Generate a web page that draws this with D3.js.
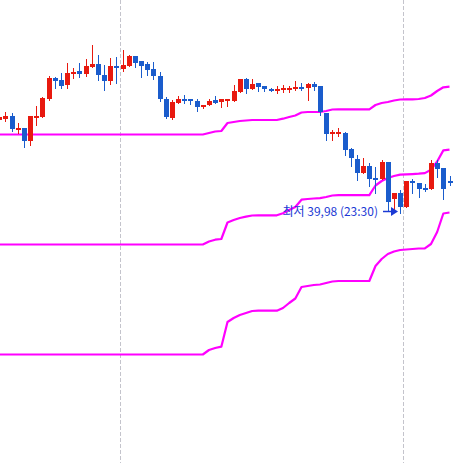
<!DOCTYPE html>
<html><head><meta charset="utf-8">
<script src="https://cdn.jsdelivr.net/npm/d3@7"></script>
<style>html,body{margin:0;padding:0;background:#fff;overflow:hidden}</style>
</head><body><svg id="c" width="454" height="463"></svg>
<script>
const opens = [40.91,40.92,40.95,40.81,40.83,40.70,40.94,40.94,41.12,41.33,
41.31,41.26,41.37,41.40,41.37,41.44,41.47,41.36,41.30,41.45,
41.42,41.45,41.55,41.50,41.47,41.42,41.35,41.12,40.93,41.08,
41.12,41.12,41.10,41.04,41.06,41.11,41.09,41.10,41.10,41.19,
41.32,41.22,41.28,41.25,41.22,41.20,41.21,41.21,41.22,41.24,
41.23,41.27,41.25,40.98,40.77,40.78,40.78,40.62,40.52,40.38,
40.45,40.33,40.32,40.49,40.12,40.18,40.04,40.30,40.28,40.23,
40.22,40.48,40.43,40.30];
const highs = [40.95,40.99,40.98,40.88,40.83,40.95,41.05,41.14,41.35,41.34,
41.38,41.48,41.43,41.48,41.52,41.66,41.56,41.46,41.53,41.54,
41.61,41.56,41.55,41.50,41.49,41.49,41.39,41.14,41.11,41.15,
41.16,41.12,41.12,41.06,41.12,41.15,41.12,41.12,41.26,41.32,
41.33,41.32,41.28,41.25,41.23,41.25,41.26,41.25,41.30,41.28,
41.28,41.29,41.25,40.98,40.81,40.83,40.79,40.63,40.56,40.53,
40.48,40.44,40.51,40.49,40.18,40.21,40.30,40.32,40.28,40.27,
40.51,40.51,40.43,40.35];
const lows = [40.90,40.90,40.80,40.78,40.64,40.66,40.86,40.94,41.11,41.23,
41.23,41.23,41.33,41.34,41.35,41.44,41.31,41.21,41.27,41.28,
41.40,41.45,41.44,41.34,41.36,41.32,41.10,40.93,40.92,41.08,
41.08,41.07,41.00,41.03,41.06,41.08,41.04,41.05,41.10,41.19,
41.18,41.22,41.20,41.20,41.20,41.18,41.19,41.19,41.21,41.21,
41.11,41.21,40.96,40.71,40.71,40.75,40.56,40.45,40.31,40.38,
40.25,40.18,40.32,40.01,40.00,39.98,40.04,40.18,40.14,40.20,
40.22,40.34,40.12,40.26];
const closes = [40.94,40.95,40.82,40.83,40.70,40.95,40.95,41.13,41.33,41.30,
41.25,41.38,41.39,41.37,41.45,41.47,41.36,41.30,41.45,41.43,
41.46,41.55,41.48,41.45,41.41,41.35,41.12,40.94,41.09,41.12,
41.11,41.11,41.04,41.06,41.10,41.08,41.12,41.12,41.20,41.32,
41.22,41.27,41.24,41.22,41.21,41.22,41.23,41.23,41.24,41.22,
41.27,41.24,40.99,40.77,40.79,40.79,40.61,40.53,40.38,40.45,
40.32,40.31,40.49,40.09,40.18,40.04,40.30,40.28,40.22,40.22,
40.48,40.42,40.22,40.29];

const upperBand = [
40.765,40.765,40.765,40.765,40.765,40.765,40.765,40.765,40.765,40.765,
40.765,40.765,40.765,40.765,40.765,40.765,40.765,40.765,40.765,40.765,
40.765,40.765,40.765,40.765,40.765,40.765,40.765,40.765,40.765,40.765,
40.765,40.765,40.765,40.765,40.78,40.795,40.80,40.88,40.89,40.90,
40.905,40.91,40.91,40.91,40.91,40.91,40.923,40.94,40.955,40.985,
40.99,40.99,40.99,41.00,41.015,41.017,41.017,41.017,41.017,41.017,
41.017,41.06,41.08,41.09,41.105,41.115,41.117,41.117,41.12,41.13,
41.155,41.20,41.237,41.243];
const middleBand = [
39.665,39.665,39.665,39.665,39.665,39.665,39.665,39.665,39.665,39.665,
39.665,39.665,39.665,39.665,39.665,39.665,39.665,39.665,39.665,39.665,
39.665,39.665,39.665,39.665,39.665,39.665,39.665,39.665,39.665,39.665,
39.665,39.665,39.665,39.665,39.695,39.713,39.72,39.885,39.91,39.93,
39.943,39.955,39.957,39.957,39.957,39.957,39.977,40.01,40.04,40.113,
40.12,40.125,40.128,40.14,40.155,40.159,40.159,40.159,40.159,40.159,
40.159,40.255,40.30,40.33,40.35,40.363,40.366,40.369,40.373,40.379,
40.413,40.495,40.606,40.614];
const lowerBand = [
38.565,38.565,38.565,38.565,38.565,38.565,38.565,38.565,38.565,38.565,
38.565,38.565,38.565,38.565,38.565,38.565,38.565,38.565,38.565,38.565,
38.565,38.565,38.565,38.565,38.565,38.565,38.565,38.565,38.565,38.565,
38.565,38.565,38.565,38.565,38.61,38.63,38.643,38.89,38.93,38.96,
38.98,39.00,39.003,39.003,39.003,39.003,39.03,39.08,39.125,39.24,
39.25,39.26,39.265,39.28,39.295,39.30,39.30,39.30,39.30,39.30,
39.30,39.45,39.52,39.57,39.595,39.61,39.615,39.62,39.625,39.627,
39.67,39.79,39.975,39.985];

const dayBreaks = [19.5, 65.5];
const lowLabelPrefix = "최저";
const lowLabelTime = "23:30";

const W = 454, H = 463;
const svg = d3.select("#c");
const x = d3.scaleLinear().domain([0, 73]).range([-0.67, 449.5]);
const y = d3.scaleLinear().domain([37.48, 42.11]).range([H, 0]);

const UP = "#e8190f", DOWN = "#1a5ccc";

// day separators
svg.selectAll("line.grid").data(dayBreaks).join("line")
  .attr("x1", d => Math.round(x(d)) + 0.5).attr("x2", d => Math.round(x(d)) + 0.5)
  .attr("y1", 0).attr("y2", H)
  .attr("stroke", "#c4c4cc").attr("stroke-width", 1)
  .attr("stroke-dasharray", "4,2");

// bands
const idx = d3.range(opens.length);
const lineGen = arr => d3.line().x(i => x(i)).y(i => y(arr[i]))(idx);
[upperBand, middleBand, lowerBand].forEach(b => {
  svg.append("path").attr("d", lineGen(b))
    .attr("fill", "none").attr("stroke", "#ff00ff").attr("stroke-width", 2.2)
    .attr("stroke-linejoin", "round");
});

// candles
const g = svg.append("g").attr("shape-rendering", "crispEdges");
idx.forEach(i => {
  const cx = Math.round(x(i));
  const up = closes[i] >= opens[i];
  const col = up ? UP : DOWN;
  g.append("line")
    .attr("x1", cx + 0.5).attr("x2", cx + 0.5)
    .attr("y1", Math.round(y(highs[i]))).attr("y2", Math.round(y(lows[i])) + 1)
    .attr("stroke", col).attr("stroke-width", 1);
  const top = Math.round(y(Math.max(opens[i], closes[i])));
  const bot = Math.round(y(Math.min(opens[i], closes[i])));
  g.append("rect")
    .attr("x", cx - 2).attr("y", top)
    .attr("width", 5).attr("height", Math.max(2, bot - top))
    .attr("fill", col);
});

// lowest annotation
const minLow = d3.min(lows);
const iMin = lows.indexOf(minLow);
const tipX = Math.round(x(iMin)) - 2;
const ay = Math.round(y(minLow)) - 1.5;
const acol = "#1c3ad4";
svg.append("line").attr("x1", tipX - 15).attr("x2", tipX - 6)
  .attr("y1", ay).attr("y2", ay).attr("stroke", acol).attr("stroke-width", 1.5);
svg.append("path")
  .attr("d", d3.line()([[tipX - 7, ay - 4.5], [tipX, ay], [tipX - 7, ay + 4.5]]) + "Z")
  .attr("fill", acol);
const fmt = v => d3.format(".2f")(v).replace(".", ",");
svg.append("text")
  .attr("x", tipX - 20).attr("y", ay + 4)
  .attr("text-anchor", "end")
  .attr("font-family", "'Noto Sans CJK KR', 'Noto Sans', sans-serif")
  .attr("font-size", 12)
  .attr("fill", acol)
  .text(`${lowLabelPrefix} ${fmt(minLow)} (${lowLabelTime})`);
</script></body></html>
